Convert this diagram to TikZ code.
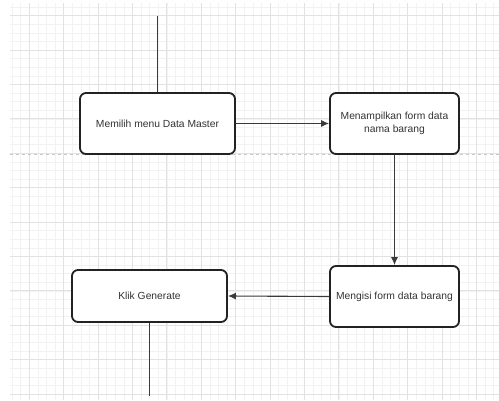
\documentclass[tikz,border=0pt]{standalone}
\usepackage{fontspec}
\setmainfont{Liberation Sans}
\usetikzlibrary{arrows.meta}
\definecolor{boxline}{HTML}{222222}
\definecolor{conn}{HTML}{3A3A3A}
\definecolor{txt}{HTML}{333333}
\definecolor{gminor}{HTML}{F2F2F2}
\definecolor{gmajor}{HTML}{E2E2E2}
\definecolor{pagebrk}{HTML}{C8C8C8}
\tikzset{
  stepbox/.style={draw=boxline, line width=1.8pt, rounded corners=6pt, fill=white,
    text=txt, font=\fontsize{10.3}{12.5}\selectfont, align=center, inner sep=2pt},
  flow/.style={draw=conn, line width=1.1pt},
  flowarrow/.style={flow, -{Latex[length=8pt,width=7pt]}}
}
\begin{document}
\begin{tikzpicture}[x=1pt,y=-1pt]
\useasboundingbox (0,0) rectangle (499,400);
\fill[white] (0,0) rectangle (499,400);
% grid
\begin{scope}
\clip (10,3) rectangle (499,400);
\foreach \k in {-3,...,60} {
  \draw[gminor, line width=0.7pt] ({29.3+8.6*\k},0) -- ({29.3+8.6*\k},400);
  \draw[gminor, line width=0.7pt] (0,{15.7+8.6*\k}) -- (499,{15.7+8.6*\k});
}
\foreach \k in {-1,...,15} {
  \draw[gmajor, line width=1pt] ({29.3+34.4*\k},0) -- ({29.3+34.4*\k},400);
  \draw[gmajor, line width=1pt] (0,{15.7+34.4*\k}) -- (499,{15.7+34.4*\k});
}
\end{scope}
% page break line
\coordinate (pbL) at (10,154);
\coordinate (pbR) at (499,154);
\draw[pagebrk, line width=0.8pt, dash pattern=on 3pt off 3pt] (pbL) -- (pbR);

% nodes
\node[stepbox, minimum width=155pt, minimum height=61pt] (b1) at (157.5,123.5) {Memilih menu Data Master};
\node[stepbox, minimum width=129pt, minimum height=61pt] (b2) at (394.5,123.5) {Menampilkan form data\\nama barang};
\node[stepbox, minimum width=129pt, minimum height=61pt] (b3) at (394.5,296.5) {Mengisi form data barang};
\node[stepbox, minimum width=155pt, minimum height=52pt] (b4) at (149.5,296) {Klik Generate};

\coordinate (top) at (157.5,16);
\coordinate (bot) at (149.5,396);

\draw[flow] (top) -- (b1.north);
\draw[flowarrow] (b1.east) -- (b2.west);
\draw[flowarrow] (b2.south) -- (b3.north);
\draw[flowarrow] (b3.west) -- (b4.east);
\draw[flow] (b4.south) -- (bot);
\end{tikzpicture}
\end{document}
